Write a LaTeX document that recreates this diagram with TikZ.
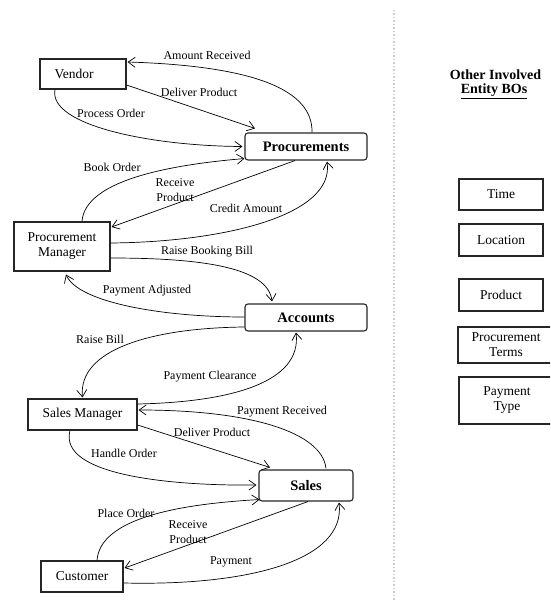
\documentclass[tikz,border=0pt]{standalone}
\usepackage{fontspec}
\setmainfont{Liberation Serif}
\usetikzlibrary{arrows.meta}
\tikzset{
  ent/.style={draw=black!85, line width=1.1pt, fill=white, inner sep=0pt, align=center,
    font=\fontsize{13.5}{15}\selectfont},
  bo/.style={ent, rounded corners=3pt, font=\fontsize{14.5}{16}\selectfont\bfseries},
  flow/.style={line width=0.7pt, -{Straight Barb[length=7pt,width=10pt,line width=0.7pt]}},
  lab/.style={font=\fontsize{12}{14.5}\selectfont, align=center, inner sep=0pt},
}
\begin{document}
\begin{tikzpicture}[x=1pt,y=-1pt]
\useasboundingbox (0,0) rectangle (550,601);
\begin{scope}
\clip (0,0) rectangle (550,601);
% separator
\draw[gray!40, line width=1.5pt, dotted] (394,10) -- (394,601);

% main entities
\node[ent, minimum width=86pt, minimum height=30pt] (vendor) at (83,74) {Vendor\hspace*{18pt}};
\node[bo, minimum width=122pt, minimum height=27pt] (proc) at (306,146.5) {Procurements};
\node[ent, minimum width=96pt, minimum height=49pt] (pm) at (62,246.5) {Procurement\\Manager};
\node[bo, minimum width=122pt, minimum height=27pt] (acc) at (306,317.5) {Accounts};
\node[ent, minimum width=109pt, minimum height=31pt] (sm) at (82.5,414.5) {Sales Manager};
\node[bo, minimum width=94pt, minimum height=31pt] (sales) at (306,485.5) {Sales};
\node[ent, minimum width=82pt, minimum height=31pt] (cust) at (82,576.5) {Customer};

% right column
\node[lab, font=\fontsize{14}{16}\selectfont\bfseries] (oth) at (495.5,75) {Other Involved};
\node[lab, font=\fontsize{14}{16}\selectfont\bfseries] (ebo) at (494,91) {\underline{Entity BOs}};
\node[ent, minimum width=84pt, minimum height=31pt] (time) at (501,194.5) {Time};
\node[ent, minimum width=84pt, minimum height=32pt] (loc) at (501,240) {Location};
\node[ent, minimum width=84pt, minimum height=32pt] (prod) at (501,295) {Product};
\node[ent, minimum width=96pt, minimum height=36pt, text width=90pt] (pterms) at (506,345) {Procurement\\Terms};
\node[ent, minimum width=96pt, minimum height=47pt, text width=90pt] (ptype) at (507,400.5) {Payment\\Type};
\end{scope}

% connector end points (yshift is in page direction: positive = up)
\coordinate (vR1) at ([xshift=1pt,yshift=12pt]vendor.east);
\coordinate (vR2) at ([yshift=-11pt]vendor.east);
\coordinate (pTop1) at ([xshift=6pt]proc.north);
\coordinate (pTop2) at ([xshift=-51pt,yshift=4pt]proc.north);
\coordinate (vB) at ([xshift=-28pt]vendor.south);
\coordinate (pL) at ([xshift=-2pt]proc.west);
\coordinate (pBL) at ([yshift=2pt]proc.south west);
\coordinate (pB1) at ([xshift=-11pt]proc.south);
\coordinate (pB2) at ([xshift=21pt,yshift=-1pt]proc.south);
\coordinate (pmT) at ([xshift=20pt]pm.north);
\coordinate (pmR1) at ([xshift=1pt,yshift=19.5pt]pm.east);
\coordinate (pmR2) at ([yshift=3.5pt]pm.east);
\coordinate (pmR3) at ([yshift=-11.5pt]pm.east);
\coordinate (pmB) at ([xshift=4pt,yshift=-3pt]pm.south);
\coordinate (aT) at ([xshift=-34pt,yshift=2pt]acc.north);
\coordinate (aL1) at ([yshift=0.5pt]acc.west);
\coordinate (aL2) at ([yshift=-9.5pt]acc.west);
\coordinate (aB) at ([xshift=-10pt,yshift=-1pt]acc.south);
\coordinate (smT) at ([yshift=1pt]sm.north);
\coordinate (smR1) at ([yshift=10.5pt]sm.east);
\coordinate (smR2) at ([xshift=1pt,yshift=4.5pt]sm.east);
\coordinate (smR3) at ([yshift=-10.5pt]sm.east);
\coordinate (smB) at ([xshift=-12.5pt]sm.south);
\coordinate (sT1) at ([xshift=20pt,yshift=1pt]sales.north);
\coordinate (sT2) at ([xshift=-36pt,yshift=2pt]sales.north);
\coordinate (sL) at ([xshift=-2pt,yshift=0.5pt]sales.west);
\coordinate (sBL) at ([xshift=1pt,yshift=2pt]sales.south west);
\coordinate (sB1) at ([xshift=2pt]sales.south);
\coordinate (sB2) at ([xshift=33pt,yshift=-1pt]sales.south);
\coordinate (cT) at ([xshift=15pt]cust.north);
\coordinate (cR1) at ([xshift=1pt,yshift=8.5pt]cust.east);
\coordinate (cR2) at ([yshift=-6.5pt]cust.east);

% Vendor <-> Procurements
\draw[flow] (pTop1) .. controls (313,90) and (255,66) .. (vR1);
\draw[flow] (vR2) -- (pTop2);
\draw[flow] (vB) .. controls (48,125) and (150,146) .. (pL);
% Procurement Manager <-> Procurements
\draw[flow] (pmT) .. controls (85,178) and (180,164) .. (pBL);
\draw[flow] (pB1) -- (pmR1);
\draw[flow] (pmR2) .. controls (225,242) and (335,215) .. (pB2);
% Procurement Manager <-> Accounts
\draw[flow] (pmR3) .. controls (205,258) and (268,268) .. (aT);
\draw[flow] (aL1) .. controls (160,317) and (78,302) .. (pmB);
% Accounts <-> Sales Manager
\draw[flow] (aL2) .. controls (150,328) and (78,350) .. (smT);
\draw[flow] (smR1) .. controls (232,402) and (302,382) .. (aB);
% Sales Manager <-> Sales
\draw[flow] (sT1) .. controls (322,432) and (250,410) .. (smR2);
\draw[flow] (smR3) -- (sT2);
\draw[flow] (smB) .. controls (58,475) and (170,486) .. (sL);
% Customer <-> Sales
\draw[flow] (cT) .. controls (100,518) and (180,504) .. (sBL);
\draw[flow] (sB1) -- (cR1);
\draw[flow] (cR2) .. controls (250,586) and (346,560) .. (sB2);

% labels
\node[lab] (l1) at (207,55) {Amount Received};
\node[lab] (l2) at (199,92) {Deliver Product};
\node[lab] (l3) at (111,113) {Process Order};
\node[lab] (l4) at (112,167) {Book Order};
\node[lab] (l5) at (175,190) {Receive\\Product};
\node[lab] (l6) at (246,208) {Credit Amount};
\node[lab] (l7) at (207,252) {Raise Booking Bill};
\node[lab] (l8) at (147,291) {Payment Adjusted};
\node[lab] (l9) at (100,339) {Raise Bill};
\node[lab] (l10) at (210,377) {Payment Clearance};
\node[lab] (l11) at (282,412) {Payment Received};
\node[lab] (l12) at (212,432) {Deliver Product};
\node[lab] (l13) at (124,453) {Handle Order};
\node[lab] (l14) at (126,513) {Place Order};
\node[lab] (l15) at (188,532) {Receive\\Product};
\node[lab] (l16) at (231,562) {Payment};
\end{tikzpicture}
\end{document}
